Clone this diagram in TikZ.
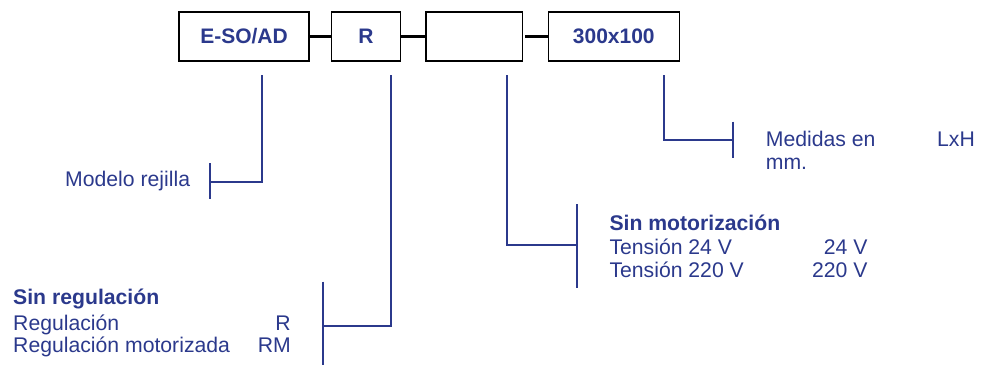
\documentclass[tikz,border=0pt]{standalone}
\usepackage{fontspec}
\setmainfont{Liberation Sans}
\definecolor{navy}{RGB}{43,57,140}
\begin{document}
\begin{tikzpicture}[x=1pt,y=-1pt,
  codebox/.style={draw=black,line width=1.3pt,minimum height=49pt,inner sep=0pt,
    font=\fontsize{21}{23}\selectfont\bfseries,text=navy},
  link/.style={black,line width=3pt},
  lead/.style={navy,line width=2pt},
  lbl/.style={inner sep=0pt,font=\fontsize{21.2}{23}\selectfont,text=navy},
  blbl/.style={lbl,font=\fontsize{21.2}{23}\selectfont\bfseries}]
\useasboundingbox (0,0) rectangle (981,365);
% boxes
\node[codebox,minimum width=130pt] (b1) at (244,36.5) {E-SO/AD};
\node[codebox,minimum width=69.4pt] (b2) at (366,36.5) {R};
\node[codebox,minimum width=96.7pt] (b3) at (474.4,36.5) {};
\node[codebox,minimum width=131pt] (b4) at (613.8,36.5) {300x100};
\draw[link] (b1.east) -- (b2.west);
\draw[link] (b2.east) -- (b3.west);
\draw[link] ([xshift=2pt]b3.east) -- (b4.west);
% lead 1
\coordinate (s1) at (262,75);
\coordinate (e1) at (262,182);
\coordinate (k1) at (209.5,182);
\coordinate (k1t) at (209.5,163);
\coordinate (k1b) at (209.5,199);
\draw[lead] (s1) -- (e1) -- (k1);
\draw[lead] (k1t) -- (k1b);
\node[lbl,anchor=base west] (t1) at (65,186.7) {Modelo rejilla};
% lead 2
\coordinate (s2) at (391,75);
\coordinate (e2) at (391,326);
\coordinate (k2) at (323,326);
\coordinate (k2t) at (323,281.5);
\coordinate (k2b) at (323,365);
\draw[lead] (s2) -- (e2) -- (k2);
\draw[lead] (k2t) -- (k2b);
\node[blbl,anchor=base west] (t2a) at (13,304.3) {Sin regulación};
\node[lbl,anchor=base west] (t2b) at (13,330) {Regulación};
\node[lbl,anchor=base west] (t2c) at (13,352.7) {Regulación motorizada};
\node[lbl,anchor=base east] (v2b) at (291,330) {R};
\node[lbl,anchor=base east] (v2c) at (291,352.7) {RM};
% lead 3
\coordinate (s3) at (507,75);
\coordinate (e3) at (507,245);
\coordinate (k3) at (577,245);
\coordinate (k3t) at (577,204);
\coordinate (k3b) at (577,288);
\draw[lead] (s3) -- (e3) -- (k3);
\draw[lead] (k3t) -- (k3b);
\node[blbl,anchor=base west] (t3a) at (609.3,230) {Sin motorización};
\node[lbl,anchor=base west] (t3b) at (609.3,254.3) {Tensión 24 V};
\node[lbl,anchor=base west] (t3c) at (609.3,277.3) {Tensión 220 V};
\node[lbl,anchor=base east] (v3b) at (867.7,254.3) {24 V};
\node[lbl,anchor=base east] (v3c) at (867.7,277.3) {220 V};
% lead 4
\coordinate (s4) at (664,75);
\coordinate (e4) at (664,139.5);
\coordinate (k4) at (733,139.5);
\coordinate (k4t) at (733,121.5);
\coordinate (k4b) at (733,158);
\draw[lead] (s4) -- (e4) -- (k4);
\draw[lead] (k4t) -- (k4b);
\node[lbl,anchor=base west] (t4a) at (765.7,146) {Medidas en};
\node[lbl,anchor=base east] (v4a) at (975,146) {LxH};
\node[lbl,anchor=base west] (t4b) at (765.7,169.3) {mm.};
\end{tikzpicture}
\end{document}
